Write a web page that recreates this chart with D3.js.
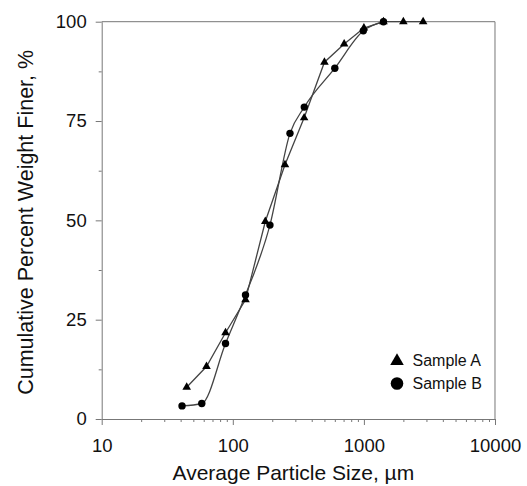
<!DOCTYPE html>
<html>
<head>
<meta charset="utf-8">
<script src="https://cdn.jsdelivr.net/npm/d3@7"></script>
<style>
  body { margin: 0; background: #fff; }
  svg text { font-family: "Liberation Sans", Arial, sans-serif; fill: #111; }
</style>
</head>
<body>
<svg id="chart"></svg>
<script>
(function() {

// particle size (um) and cumulative % finer
const sizeA = [44.5, 63, 88, 125, 177, 250, 350, 500, 707, 1000, 1410, 2000, 2830];
const finerA = [8, 13.2, 21.7, 30, 49.7, 64, 75.8, 89.8, 94.4, 98.4, 100, 100, 100];

const sizeB = [41, 58, 88, 125, 192, 273, 351, 600, 990, 1410];
const finerB = [3.3, 3.9, 19, 31.2, 48.8, 71.9, 78.5, 88.3, 97.7, 100];

const xTickValues = [10, 100, 1000, 10000];
const yTickValues = [0, 25, 50, 75, 100];
const yMinorValues = [12.5, 37.5, 62.5, 87.5];

const legendNames = ["Sample A", "Sample B"];

const axisColor = "#777";
const lineColor = "#444";

const margin = { top: 21.7, right: 32, bottom: 67, left: 101.7 };
const width = 527 - margin.left - margin.right;
const height = 486 - margin.top - margin.bottom;

const svg = d3.select("#chart")
    .attr("width", width + margin.left + margin.right)
    .attr("height", height + margin.top + margin.bottom);

const g = svg.append("g")
    .attr("transform", `translate(${margin.left},${margin.top})`);

const x = d3.scaleLog()
    .domain([10, 10000])
    .range([0, width]);

const y = d3.scaleLinear()
    .domain([0, 100])
    .range([height, 0]);

// minor ticks 20..90, 200..900 etc
const xMinor = [];
[10, 100, 1000].forEach(dec => {
    for (let k = 2; k <= 9; k++) xMinor.push(dec * k);
});

// frame: top and right
g.append("line")
    .attr("x1", 0).attr("x2", width)
    .attr("y1", 0).attr("y2", 0)
    .attr("stroke", axisColor);
g.append("line")
    .attr("x1", width).attr("x2", width)
    .attr("y1", 0).attr("y2", height)
    .attr("stroke", axisColor);

// X axis
g.append("g")
    .attr("transform", `translate(0,${height})`)
    .call(d3.axisBottom(x).tickValues(xTickValues).tickFormat(d3.format("d"))
        .tickSizeInner(6).tickSizeOuter(0).tickPadding(14));

g.append("g")
    .attr("transform", `translate(0,${height})`)
    .call(d3.axisBottom(x).tickValues(xMinor).tickFormat("")
        .tickSizeInner(3).tickSizeOuter(0))
    .call(a => a.select(".domain").remove());

// Y axis
g.append("g")
    .call(d3.axisLeft(y).tickValues(yTickValues)
        .tickSizeInner(6).tickSizeOuter(0).tickPadding(9));

g.append("g")
    .call(d3.axisLeft(y).tickValues(yMinorValues).tickFormat("")
        .tickSizeInner(3).tickSizeOuter(0))
    .call(a => a.select(".domain").remove());

g.selectAll(".domain, .tick line").attr("stroke", axisColor);
g.selectAll(".tick text").attr("font-size", "18.5px").attr("fill", "#111");

// axis titles
svg.append("text")
    .attr("x", margin.left + width / 2 - 5)
    .attr("y", 480)
    .attr("text-anchor", "middle")
    .attr("font-size", "21px")
    .text("Average Particle Size, µm");

svg.append("text")
    .attr("transform", `translate(33,${margin.top + height / 2 + 2}) rotate(-90)`)
    .attr("text-anchor", "middle")
    .attr("font-size", "21.5px")
    .text("Cumulative Percent Weight Finer, %");

// lines
const dataA = sizeA.map((s, i) => ({ s: s, v: finerA[i] }));
const dataB = sizeB.map((s, i) => ({ s: s, v: finerB[i] }));

const lineA = d3.line()
    .x(d => x(d.s))
    .y(d => y(d.v));

const lineB = d3.line()
    .curve(d3.curveMonotoneX)
    .x(d => x(d.s))
    .y(d => y(d.v));

g.append("path")
    .datum(dataA)
    .attr("fill", "none")
    .attr("stroke", lineColor)
    .attr("stroke-width", 1.3)
    .attr("d", lineA);

g.append("path")
    .datum(dataB)
    .attr("fill", "none")
    .attr("stroke", lineColor)
    .attr("stroke-width", 1.3)
    .attr("d", lineB);

// markers
const triangle = d3.symbol().type(d3.symbolTriangle);

g.selectAll(".ptA")
    .data(dataA)
    .enter().append("path")
    .attr("class", "ptA")
    .attr("transform", d => `translate(${x(d.s)},${y(d.v)})`)
    .attr("d", triangle.size(32)())
    .attr("fill", "#000");

g.selectAll(".ptB")
    .data(dataB)
    .enter().append("circle")
    .attr("class", "ptB")
    .attr("cx", d => x(d.s))
    .attr("cy", d => y(d.v))
    .attr("r", 3.7)
    .attr("fill", "#000");

// legend
const legend = svg.append("g")
    .attr("transform", "translate(397,360)");

legend.append("path")
    .attr("d", d3.symbol().type(d3.symbolTriangle).size(80)())
    .attr("transform", "translate(0,1)")
    .attr("fill", "#000");

legend.append("circle")
    .attr("cx", 0)
    .attr("cy", 23.5)
    .attr("r", 6.3)
    .attr("fill", "#000");

legend.selectAll("text")
    .data(legendNames)
    .enter().append("text")
    .attr("x", 15.5)
    .attr("y", (d, i) => i * 23.5)
    .attr("dy", "0.36em")
    .attr("font-size", "16px")
    .text(d => d);

})();
</script>
</body>
</html>
